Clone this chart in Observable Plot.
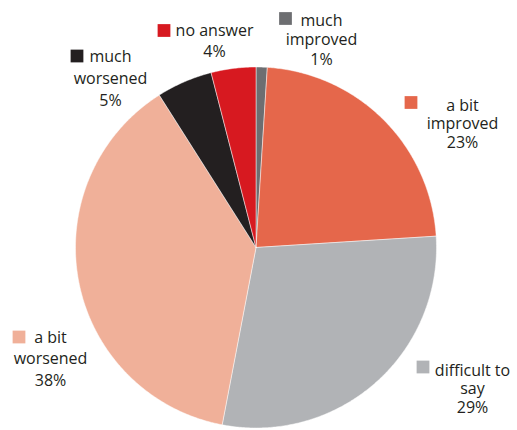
<!DOCTYPE html>
<html>
<head>
<meta charset="utf-8">
<script src="https://cdn.jsdelivr.net/npm/d3@7"></script>
<script src="https://cdn.jsdelivr.net/npm/@observablehq/plot@0.6"></script>
<style>
  html, body { margin: 0; padding: 0; background: #fff; }
  #chart svg { display: block; }
</style>
</head>
<body>
<div id="chart"></div>
<script>
// ---- data ----
const categories = ["much improved", "a bit improved", "difficult to say", "a bit worsened", "much worsened", "no answer"];
const values = [1, 23, 29, 38, 5, 4];
const labelLines = [
  ["much", "improved", "1%"],
  ["a bit", "improved", "23%"],
  ["difficult to", "say", "29%"],
  ["a bit", "worsened", "38%"],
  ["much", "worsened", "5%"],
  ["no answer", "4%"]
];
const colors = ["#6d6e71", "#e5674b", "#b1b3b6", "#f0b099", "#231f20", "#d71920"];

// ---- layout (pixels) ----
const W = 517, H = 430;
const cx = 255.5, cy = 247, R = 180.5;
const labelX = [321, 462, 472, 50, 110, 214];
const labelY = [25, 110, 375, 342, 61, 35];      // baseline of first line
const labelGap = [19.5, 18.5, 18.5, 21.5, 22, 21];
const squareX = [285, 410.5, 422.5, 18.5, 76.5, 163.5];
const squareY = [18, 102, 366.5, 336.5, 55.5, 30];
const FS = 16;

// ---- build slices from data ----
const arcs = d3.pie().sort(null).startAngle(0).endAngle(2 * Math.PI)(values);
const slicePts = [];
arcs.forEach((a, i) => {
  const cat = categories[i];
  slicePts.push({cat, x: cx, y: cy});
  const n = Math.max(2, Math.ceil((a.endAngle - a.startAngle) / (Math.PI / 360)));
  for (let k = 0; k <= n; k++) {
    const t = a.startAngle + (a.endAngle - a.startAngle) * k / n;
    slicePts.push({cat, x: cx + R * Math.sin(t), y: cy - R * Math.cos(t)});
  }
  slicePts.push({cat, x: cx, y: cy});
});

const textRows = [];
labelLines.forEach((lines, i) => {
  lines.forEach((t, j) => textRows.push({text: t, x: labelX[i], y: labelY[i] + j * labelGap[i]}));
});
const squares = categories.map((c, i) => ({cat: c, x: squareX[i], y: squareY[i]}));

const chart = Plot.plot({
  width: W,
  height: H,
  margin: 0,
  x: {domain: [0, W], range: [0, W], axis: null},
  y: {domain: [0, H], range: [0, H], axis: null},
  color: {domain: categories, range: colors},
  style: {fontFamily: "'Open Sans', sans-serif", background: "#fff"},
  marks: [
    Plot.line(slicePts, {x: "x", y: "y", z: "cat", fill: "cat", stroke: "#fff", strokeWidth: 0.6, strokeOpacity: 0.8}),
    Plot.dot(squares, {x: "x", y: "y", symbol: "square", r: 7.2, fill: "cat", stroke: null}),
    Plot.text(textRows, {x: "x", y: "y", text: "text", textAnchor: "middle", lineAnchor: "top", dy: -0.71 * FS, fontSize: FS, fill: "#231f20"})
  ]
});
document.getElementById("chart").appendChild(chart);
</script>
</body>
</html>
